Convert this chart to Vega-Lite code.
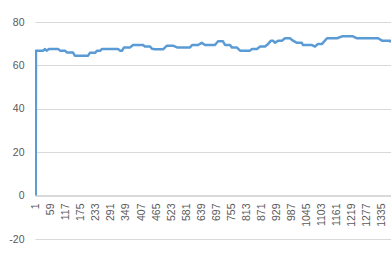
{
  "$schema": "https://vega.github.io/schema/vega-lite/v6.json",
  "width": 356,
  "height": 217,
  "autosize": {"type": "none"},
  "padding": {"left": 35, "top": 22, "right": 0, "bottom": 25},
  "background": "white",
  "config": {
    "view": {"stroke": null},
    "axis": {"labelFont": "Liberation Sans", "labelColor": "#595959", "labelFontSize": 10.5}
  },
  "data": {
    "values": [
      {"x": 1, "y": 0}, {"x": 2, "y": 66.8}, {"x": 29, "y": 66.8}, {"x": 37, "y": 67.5},
      {"x": 43, "y": 66.8}, {"x": 52, "y": 67.6}, {"x": 87, "y": 67.6}, {"x": 95, "y": 66.8},
      {"x": 114, "y": 66.8}, {"x": 122, "y": 65.9}, {"x": 145, "y": 65.9}, {"x": 152, "y": 64.5},
      {"x": 203, "y": 64.5}, {"x": 210, "y": 65.8}, {"x": 230, "y": 65.8}, {"x": 237, "y": 66.7},
      {"x": 249, "y": 66.7}, {"x": 257, "y": 67.6}, {"x": 318, "y": 67.6}, {"x": 326, "y": 66.8},
      {"x": 334, "y": 66.8}, {"x": 341, "y": 68.2}, {"x": 364, "y": 68.2}, {"x": 376, "y": 69.4},
      {"x": 415, "y": 69.4}, {"x": 422, "y": 68.7}, {"x": 442, "y": 68.7}, {"x": 449, "y": 67.7},
      {"x": 461, "y": 67.4}, {"x": 492, "y": 67.4}, {"x": 507, "y": 69.1}, {"x": 530, "y": 69.1},
      {"x": 546, "y": 68.3}, {"x": 596, "y": 68.3}, {"x": 604, "y": 69.4}, {"x": 627, "y": 69.4},
      {"x": 641, "y": 70.4}, {"x": 654, "y": 69.4}, {"x": 692, "y": 69.4}, {"x": 704, "y": 71.1},
      {"x": 723, "y": 71.1}, {"x": 731, "y": 69.4}, {"x": 750, "y": 69.4}, {"x": 758, "y": 68.2},
      {"x": 777, "y": 68.2}, {"x": 789, "y": 66.8}, {"x": 827, "y": 66.8}, {"x": 835, "y": 67.6},
      {"x": 854, "y": 67.6}, {"x": 866, "y": 68.7}, {"x": 885, "y": 68.7}, {"x": 897, "y": 69.9},
      {"x": 908, "y": 71.4}, {"x": 916, "y": 71.4}, {"x": 924, "y": 70.4}, {"x": 935, "y": 71.4},
      {"x": 950, "y": 71.4}, {"x": 962, "y": 72.5}, {"x": 981, "y": 72.5}, {"x": 993, "y": 71.4},
      {"x": 1008, "y": 70.4}, {"x": 1027, "y": 70.4}, {"x": 1031, "y": 69.4}, {"x": 1066, "y": 69.4},
      {"x": 1078, "y": 68.7}, {"x": 1089, "y": 69.9}, {"x": 1105, "y": 69.9}, {"x": 1124, "y": 72.5},
      {"x": 1163, "y": 72.5}, {"x": 1182, "y": 73.4}, {"x": 1224, "y": 73.4}, {"x": 1240, "y": 72.5},
      {"x": 1321, "y": 72.5}, {"x": 1336, "y": 71.4}, {"x": 1367, "y": 71.4}, {"x": 1370, "y": 70.6}
    ]
  },
  "mark": {"type": "line", "color": "#5b9bd5", "strokeWidth": 2.5, "strokeJoin": "round", "clip": true},
  "encoding": {
    "x": {
      "field": "x",
      "type": "quantitative",
      "scale": {"domain": [-1.7, 1370.7], "nice": false, "zero": false},
      "axis": {
        "title": null,
        "values": [1, 59, 117, 175, 233, 291, 349, 407, 465, 523, 581, 639, 697, 755, 813, 871, 929, 987, 1045, 1103, 1161, 1219, 1277, 1335],
        "labelExpr": "toString(datum.value)",
        "labelAngle": -90,
        "offset": -44,
        "ticks": false,
        "tickSize": 0,
        "labelPadding": 8,
        "grid": false,
        "domain": true,
        "domainColor": "#d9d9d9",
        "domainWidth": 1,
        "labelOverlap": false,
        "labelFlush": false
      }
    },
    "y": {
      "field": "y",
      "type": "quantitative",
      "scale": {"domain": [-20, 80], "nice": false},
      "axis": {
        "title": null,
        "values": [-20, 0, 20, 40, 60, 80],
        "labelExpr": "toString(datum.value)",
        "ticks": false,
        "tickSize": 0,
        "labelPadding": 11,
        "domain": false,
        "grid": true,
        "gridColor": "#d9d9d9",
        "gridWidth": 1,
        "labelFlush": false,
        "labelOverlap": false
      }
    }
  }
}
